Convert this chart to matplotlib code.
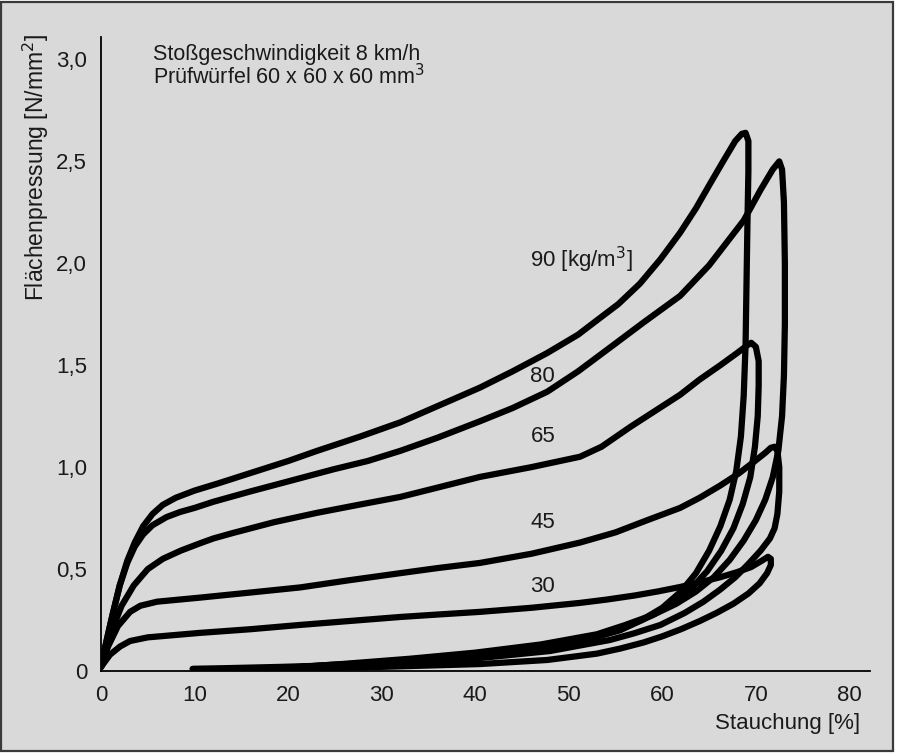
import matplotlib.pyplot as plt
from matplotlib.patches import Rectangle

# Compression hysteresis loops, one per foam density [kg/m3]
densities = ["90", "80", "65", "45", "30"]

# loading branch (Stauchung %, Flächenpressung N/mm2)
load_90_x = [0, 0.5, 1.2, 2.0, 2.8, 3.6, 4.5, 5.5, 6.6, 8.0, 10.0, 12.5, 15.9, 20.0, 23.1, 27.7, 32.0, 36.0,
             40.5, 44.0, 47.7, 51.0, 53.0, 55.3, 57.6, 59.8, 61.9, 63.6, 65.1, 66.5, 67.8, 68.5, 68.9]
load_90_y = [0.02, 0.13, 0.27, 0.42, 0.54, 0.63, 0.71, 0.77, 0.815, 0.85, 0.885, 0.92, 0.97, 1.03, 1.08, 1.15,
             1.22, 1.30, 1.39, 1.47, 1.56, 1.65, 1.72, 1.80, 1.90, 2.02, 2.15, 2.27, 2.39, 2.50, 2.60, 2.635, 2.64]
load_80_x = [0, 0.5, 1.2, 2.0, 2.8, 3.6, 4.5, 5.5, 7.0, 8.45, 10.0, 12.0, 15.9, 20.0, 24.9, 28.5, 32.0, 36.0,
             40.5, 44.0, 47.7, 51.0, 54.8, 58.0, 61.9, 65.0, 68.7, 70.5, 71.8, 72.5]
load_80_y = [0.02, 0.13, 0.27, 0.42, 0.53, 0.61, 0.67, 0.715, 0.755, 0.78, 0.80, 0.83, 0.88, 0.93, 0.99, 1.03,
             1.08, 1.145, 1.225, 1.29, 1.37, 1.47, 1.60, 1.71, 1.84, 1.99, 2.21, 2.36, 2.46, 2.50]
load_65_x = [0, 1.0, 2.2, 3.5, 5.0, 6.6, 8.5, 10.5, 12.0, 14.1, 18.5, 23.1, 27.5, 32.0, 36.0, 40.5, 46.0, 51.2,
             53.5, 56.6, 59.2, 61.9, 64.0, 66.2, 68.0, 69.0, 69.5]
load_65_y = [0.02, 0.18, 0.32, 0.42, 0.50, 0.55, 0.59, 0.625, 0.65, 0.677, 0.73, 0.776, 0.815, 0.854, 0.90,
             0.952, 1.00, 1.051, 1.10, 1.198, 1.275, 1.355, 1.43, 1.50, 1.56, 1.595, 1.61]
load_45_x = [0, 0.75, 1.8, 3.1, 4.2, 6.0, 10.6, 16.0, 21.3, 26.5, 32.0, 36.0, 40.5, 46.0, 51.2, 55.0, 58.4, 61.9,
             64.0, 66.2, 68.2, 69.9, 71.0, 71.6, 72.0]
load_45_y = [0.02, 0.12, 0.22, 0.29, 0.32, 0.34, 0.36, 0.385, 0.41, 0.445, 0.48, 0.505, 0.53, 0.575, 0.63, 0.68,
             0.74, 0.80, 0.85, 0.91, 0.97, 1.03, 1.07, 1.095, 1.10]
load_30_x = [0, 0.96, 2.03, 3.1, 5.0, 10.6, 16.0, 21.3, 26.5, 32.0, 36.0, 40.5, 46.0, 51.2, 54.0, 57.0, 59.5,
             61.9, 64.0, 66.2, 68.0, 69.5, 70.6, 71.3]
load_30_y = [0.02, 0.08, 0.12, 0.147, 0.165, 0.187, 0.205, 0.226, 0.245, 0.265, 0.277, 0.29, 0.31, 0.334, 0.35,
             0.37, 0.39, 0.412, 0.435, 0.46, 0.485, 0.51, 0.54, 0.56]

# unloading branch
unload_90_x = [68.9, 69.2, 69.2, 69.1, 69.0, 68.9, 68.7, 68.4, 67.9, 67.2, 66.2, 65.0, 63.6, 62.0, 60.0, 57.8,
               55.0, 52.0, 47.0, 41.0, 35.0, 29.0, 24.0]
unload_90_y = [2.64, 2.60, 2.45, 2.20, 1.90, 1.60, 1.35, 1.15, 0.98, 0.84, 0.71, 0.59, 0.48, 0.39, 0.31, 0.25,
               0.20, 0.16, 0.11, 0.075, 0.05, 0.03, 0.015]
unload_80_x = [72.5, 72.8, 73.0, 73.1, 73.1, 73.0, 72.8, 72.4, 71.8, 71.0, 70.0, 68.7, 67.2, 65.5, 63.6, 61.5,
               59.0, 56.0, 53.0, 47.0, 40.0, 33.0, 26.0, 20.0]
unload_80_y = [2.50, 2.46, 2.30, 2.00, 1.70, 1.45, 1.25, 1.08, 0.95, 0.84, 0.74, 0.64, 0.545, 0.46, 0.39, 0.33,
               0.275, 0.225, 0.18, 0.13, 0.09, 0.06, 0.035, 0.015]
unload_65_x = [69.5, 70.0, 70.3, 70.3, 70.2, 69.9, 69.4, 68.6, 67.6, 66.3, 64.8, 63.0, 61.0, 59.0, 55.5, 50.2,
               42.7, 34.1, 24.5, 19.5]
unload_65_y = [1.61, 1.59, 1.52, 1.40, 1.25, 1.10, 0.95, 0.82, 0.70, 0.59, 0.49, 0.40, 0.33, 0.275, 0.20, 0.13,
               0.08, 0.05, 0.03, 0.015]
unload_45_x = [72.0, 72.3, 72.5, 72.5, 72.3, 72.0, 71.5, 70.5, 69.2, 67.8, 66.2, 64.4, 62.4, 59.8, 57.0, 54.4,
               48.0, 39.5, 29.8, 19.1, 9.8]
unload_45_y = [1.10, 1.08, 1.00, 0.88, 0.77, 0.70, 0.65, 0.59, 0.525, 0.46, 0.40, 0.34, 0.285, 0.226, 0.185,
               0.152, 0.098, 0.059, 0.034, 0.02, 0.01]
unload_30_x = [71.3, 71.6, 71.6, 71.2, 70.4, 69.2, 67.6, 65.8, 64.0, 62.0, 60.0, 58.0, 55.5, 53.0, 47.7, 40.5,
               29.8, 21.3, 9.8]
unload_30_y = [0.56, 0.55, 0.52, 0.48, 0.43, 0.38, 0.33, 0.285, 0.245, 0.205, 0.17, 0.14, 0.11, 0.085, 0.054,
               0.034, 0.02, 0.01, 0.01]

# curve labels (baseline positions)
label_texts = ["90 [kg/m$^3$]", "80", "65", "45", "30"]
label_x = [45.9, 45.9, 45.9, 45.9, 45.9]
label_y = [1.98, 1.42, 1.125, 0.70, 0.388]

x_ticks = [0, 10, 20, 30, 40, 50, 60, 70, 80]
y_ticks = [0, 0.5, 1.0, 1.5, 2.0, 2.5, 3.0]
y_ticklabels = ["0", "0,5", "1,0", "1,5", "2,0", "2,5", "3,0"]

bg = "#d9d9d9"
ink = "#1a1a1a"
plt.rcParams["font.family"] = ["Liberation Sans", "DejaVu Sans"]

fig = plt.figure(figsize=(9.07, 7.54), dpi=100)
fig.patch.set_facecolor("white")
fig.patches.append(Rectangle((0.001, 0.004), 0.984, 0.994, transform=fig.transFigure,
                             facecolor=bg, edgecolor="#3a3a3a", linewidth=1.6, zorder=-10))

ax = fig.add_axes([0.1114, 0.1101, 0.8478, 0.8408])
ax.set_facecolor("none")

loads = [(load_90_x, load_90_y), (load_80_x, load_80_y), (load_65_x, load_65_y),
         (load_45_x, load_45_y), (load_30_x, load_30_y)]
unloads = [(unload_90_x, unload_90_y), (unload_80_x, unload_80_y), (unload_65_x, unload_65_y),
           (unload_45_x, unload_45_y), (unload_30_x, unload_30_y)]

for (lx, ly), (ux, uy) in zip(loads, unloads):
    ax.plot(lx + ux, ly + uy, color="black", lw=4.5, solid_capstyle="round", solid_joinstyle="round")

for t, tx, ty in zip(label_texts, label_x, label_y):
    ax.text(tx, ty, t, fontsize=16, color=ink, va="baseline", ha="left")

ax.text(5.6, 2.965, "Stoßgeschwindigkeit 8 km/h\nPrüfwürfel 60 x 60 x 60 mm$^3$", fontsize=15.5,
        color=ink, va="center", ha="left", linespacing=0.95)

ax.set_xlim(0, 82.2)
ax.set_ylim(0, 3.11)
ax.set_xticks(x_ticks)
ax.set_yticks(y_ticks)
ax.set_yticklabels(y_ticklabels)
ax.tick_params(length=0, labelsize=16, labelcolor=ink)
ax.tick_params(axis="y", pad=10)
ax.tick_params(axis="x", pad=10)
for s in ["top", "right"]:
    ax.spines[s].set_visible(False)
for s in ["left", "bottom"]:
    ax.spines[s].set_linewidth(1.3)
    ax.spines[s].set_color("black")

fig.text(0.040, 0.955, "Flächenpressung [N/mm$^2$]", rotation=90, fontsize=16.5, color=ink,
         ha="center", va="top")
fig.text(0.948, 0.040, "Stauchung [%]", fontsize=16, color=ink, ha="right", va="center")

plt.savefig("out.png", dpi=100, facecolor=fig.get_facecolor())
